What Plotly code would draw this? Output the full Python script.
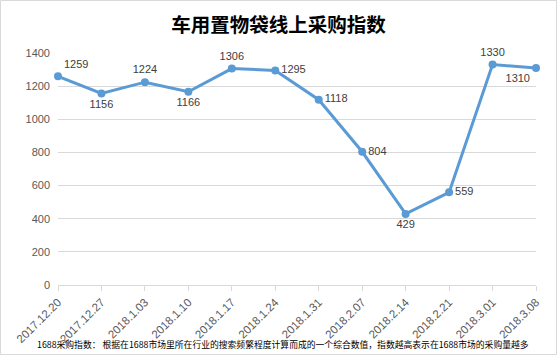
import plotly.graph_objects as go

categories = ["2017.12.20", "2017.12.27", "2018.1.03", "2018.1.10", "2018.1.17", "2018.1.24",
              "2018.1.31", "2018.2.07", "2018.2.14", "2018.2.21", "2018.3.01", "2018.3.08"]
values = [1259, 1156, 1224, 1166, 1306, 1295, 1118, 804, 429, 559, 1330, 1310]
label_pos = ["top right", "bottom center", "top center", "bottom center", "top center", "middle right",
             "middle right", "middle right", "bottom center", "middle right", "top center", "bottom left"]
y_ticks = [0, 200, 400, 600, 800, 1000, 1200, 1400]

title = "车用置物袋线上采购指数"
footer = "1688采购指数： 根据在1688市场里所在行业的搜索频繁程度计算而成的一个综合数值，指数越高表示在1688市场的采购量越多"

W, H = 557, 355
L, R, T, B = 58, 21, 53, 70
pw, ph = W - L - R, H - T - B

fig = go.Figure()
fig.add_trace(go.Scatter(
    x=list(range(len(categories))), y=values,
    mode="lines+markers+text",
    line=dict(color="#5b9bd5", width=3),
    marker=dict(color="#5b9bd5", size=8),
    text=[str(v) for v in values],
    textposition=label_pos,
    textfont=dict(family="Liberation Sans, Arial", size=11, color="#404040"),
    cliponaxis=False,
    hoverinfo="skip",
))

fig.update_layout(
    width=W, height=H,
    margin=dict(l=L, r=R, t=T, b=B, autoexpand=False),
    paper_bgcolor="white", plot_bgcolor="white",
    showlegend=False,
    title=dict(text="<b>" + title + "</b>", x=0.5, xanchor="center", y=1 - 25 / H, yanchor="middle",
               font=dict(family="Noto Sans CJK SC", size=19.5, color="#000000")),
    xaxis=dict(
        range=[0, len(categories) - 1], automargin=False,
        tickmode="array", tickvals=list(range(len(categories))), ticktext=categories,
        tickangle=-45, showgrid=False, zeroline=False,
        showline=True, linecolor="#d9d9d9", linewidth=1,
        ticks="outside", ticklen=5, tickcolor="#d9d9d9",
        tickfont=dict(family="Liberation Sans, Arial", size=11.5, color="#595959"),
    ),
    yaxis=dict(
        range=[0, 1400], tickvals=y_ticks, automargin=False,
        showgrid=True, gridcolor="#d9d9d9", gridwidth=1, zeroline=False,
        showline=False, ticks="", ticklabelstandoff=7,
        tickfont=dict(family="Liberation Sans, Arial", size=11, color="#595959"),
    ),
    annotations=[dict(
        text=footer, xref="paper", yref="paper",
        x=(282.5 - L) / pw, y=-(344 - (T + ph)) / ph,
        xanchor="center", yanchor="middle", showarrow=False,
        font=dict(family="Noto Sans CJK SC", size=8.8, color="#000000"),
    )],
    shapes=[dict(
        type="rect", xref="paper", yref="paper",
        x0=-(L - 0.5) / pw, x1=1 + (R - 0.5) / pw,
        y0=-(B - 0.5) / ph, y1=1 + (T - 0.5) / ph,
        line=dict(color="#d9d9d9", width=1), layer="below",
    )],
)

fig.write_html("out.html", config={"displayModeBar": False},
               post_script="document.body.style.margin='0';document.body.style.overflow='hidden';")
